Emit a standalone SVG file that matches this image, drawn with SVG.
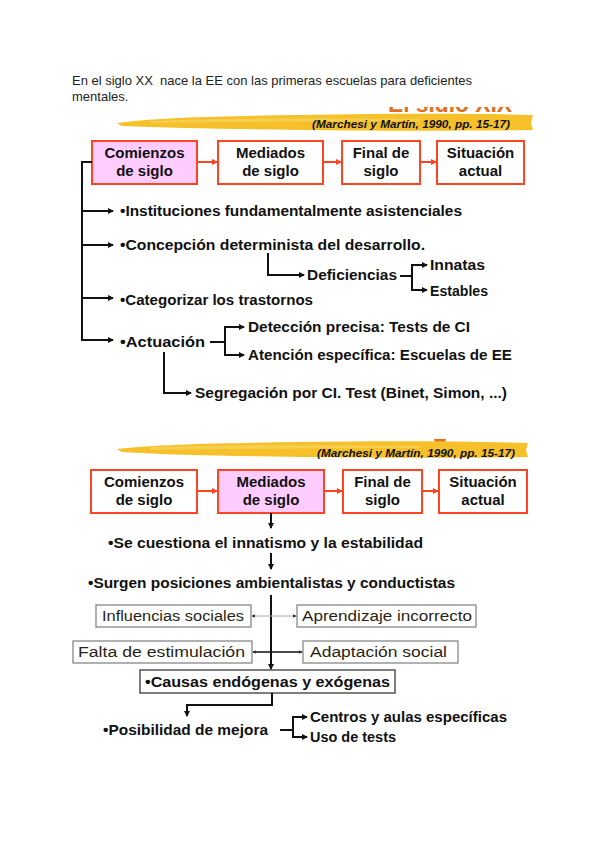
<svg xmlns="http://www.w3.org/2000/svg" width="600" height="848" viewBox="0 0 600 848">
<defs>
<style>
.intro{font-family:"Liberation Sans",Arial,sans-serif;font-size:13px;fill:#222}
.cite{font-family:"Liberation Sans",Arial,sans-serif;font-size:10.5px;font-weight:bold;font-style:italic;fill:#111}
.box{fill:#fff;stroke:#ff4422;stroke-width:2}
.box.hl{fill:#ffccff}
.bt{font-family:"Liberation Sans",Arial,sans-serif;font-size:15px;font-weight:bold;fill:#111;text-anchor:middle}
.b{font-family:"Liberation Sans",Arial,sans-serif;font-size:14px;font-weight:bold;fill:#111}
.g{fill:#fff;stroke:#888;stroke-width:1.3}
.gk{fill:#fff;stroke:#555;stroke-width:1.5}
.r{font-family:"Liberation Sans",Arial,sans-serif;font-size:14px;fill:#2a1f14}
.k{fill:none;stroke:#111;stroke-width:2}
.o{fill:none;stroke:#ff4422;stroke-width:2}
.thin{fill:none;stroke:#aaa;stroke-width:1}
.brush{fill:#f5c02a}
.brush2{fill:#f8d25a;opacity:0.8}
</style>
<marker id="ak" viewBox="0 0 6 6" refX="5" refY="3" markerWidth="6" markerHeight="6" markerUnits="userSpaceOnUse" orient="auto-start-reverse"><path d="M0,0 L6,3 L0,6 z" fill="#111"/></marker>
<marker id="ao" viewBox="0 0 6 6" refX="5" refY="3" markerWidth="6" markerHeight="6" markerUnits="userSpaceOnUse" orient="auto"><path d="M0,0 L6,3 L0,6 z" fill="#ff4422"/></marker>
<marker id="ag" viewBox="0 0 6 6" refX="5" refY="3" markerWidth="4" markerHeight="4" markerUnits="userSpaceOnUse" orient="auto-start-reverse"><path d="M0,0 L6,3 L0,6 z" fill="#333"/></marker>
<clipPath id="clipTitle"><rect x="380" y="107" width="140" height="5"/></clipPath>
</defs>

<g id="intro">
<text class="intro" x="72" y="85" xml:space="preserve" textLength="400" lengthAdjust="spacingAndGlyphs">En el siglo XX  nace la EE con las primeras escuelas para deficientes</text>
<text class="intro" x="72" y="101">mentales.</text>
</g>

<g id="header1">
<text x="388" y="112" clip-path="url(#clipTitle)" font-family="Liberation Sans, Arial, sans-serif" font-size="24" font-weight="bold" fill="#e0701e" textLength="124" lengthAdjust="spacingAndGlyphs">El siglo XIX</text>
<path class="brush" d="M117,123 C160,117 230,116 300,115 C380,114 460,113 533,115 L531,123 L533,130 C460,131 380,131 300,130 C230,129 170,128 122,126 Z"/>
<path class="brush2" d="M150,121 C230,118 330,118 420,119 L420,121 C330,121 230,122 150,123 Z"/>
<text class="cite" x="312" y="128" textLength="198" lengthAdjust="spacingAndGlyphs">(Marchesi y Martín, 1990, pp. 15-17)</text>
</g>

<g id="r1-comienzos"><rect class="box hl" x="92" y="141" width="105" height="43"/><text class="bt" x="144.5" y="158">Comienzos</text><text class="bt" x="144.5" y="176">de siglo</text></g>
<g id="r1-mediados"><rect class="box" x="218" y="141" width="105" height="43"/><text class="bt" x="270.5" y="158">Mediados</text><text class="bt" x="270.5" y="176">de siglo</text></g>
<g id="r1-final"><rect class="box" x="342" y="141" width="78" height="43"/><text class="bt" x="381" y="158">Final de</text><text class="bt" x="381" y="176">siglo</text></g>
<g id="r1-actual"><rect class="box" x="437" y="141" width="87" height="43"/><text class="bt" x="480.5" y="158">Situación</text><text class="bt" x="480.5" y="176">actual</text></g>

<g id="s1-items">
<text class="b" x="120" y="216" textLength="342" lengthAdjust="spacingAndGlyphs">•Instituciones fundamentalmente asistenciales</text>
<text class="b" x="120" y="250" textLength="305" lengthAdjust="spacingAndGlyphs">•Concepción determinista del desarrollo.</text>
<text class="b" x="307" y="280" textLength="90" lengthAdjust="spacingAndGlyphs">Deficiencias</text>
<text class="b" x="430" y="270" textLength="55" lengthAdjust="spacingAndGlyphs">Innatas</text>
<text class="b" x="430" y="296" textLength="58" lengthAdjust="spacingAndGlyphs">Estables</text>
<text class="b" x="120" y="305" textLength="193" lengthAdjust="spacingAndGlyphs">•Categorizar los trastornos</text>
<text class="b" x="120" y="347" textLength="85" lengthAdjust="spacingAndGlyphs">•Actuación</text>
<text class="b" x="248" y="332" textLength="222" lengthAdjust="spacingAndGlyphs">Detección precisa: Tests de CI</text>
<text class="b" x="248" y="360" textLength="264" lengthAdjust="spacingAndGlyphs">Atención específica: Escuelas de EE</text>
<text class="b" x="195" y="398" textLength="312" lengthAdjust="spacingAndGlyphs">Segregación por CI. Test (Binet, Simon, ...)</text>
</g>

<g id="header2">
<path d="M434,439 A6,5 0 0 0 446,439 Z" fill="#e0701e"/>
<path class="brush" d="M117,449 C160,444 230,443 300,442 C380,441 460,441 528,443 L526,450 L528,457 C460,458 380,458 300,457 C230,456 170,455 122,452 Z"/>
<path class="brush2" d="M150,447 C230,445 330,445 420,446 L420,448 C330,448 230,449 150,450 Z"/>
<text class="cite" x="317" y="457" textLength="198" lengthAdjust="spacingAndGlyphs">(Marchesi y Martín, 1990, pp. 15-17)</text>
</g>

<g id="r2-comienzos"><rect class="box" x="91" y="470" width="106" height="43"/><text class="bt" x="144" y="487">Comienzos</text><text class="bt" x="144" y="505">de siglo</text></g>
<g id="r2-mediados"><rect class="box hl" x="218" y="470" width="106" height="43"/><text class="bt" x="271" y="487">Mediados</text><text class="bt" x="271" y="505">de siglo</text></g>
<g id="r2-final"><rect class="box" x="343" y="470" width="79" height="43"/><text class="bt" x="382.5" y="487">Final de</text><text class="bt" x="382.5" y="505">siglo</text></g>
<g id="r2-actual"><rect class="box" x="439" y="470" width="88" height="43"/><text class="bt" x="483" y="487">Situación</text><text class="bt" x="483" y="505">actual</text></g>

<g id="s2-items">
<text class="b" x="108" y="548" textLength="315" lengthAdjust="spacingAndGlyphs">•Se cuestiona el innatismo y la estabilidad</text>
<text class="b" x="88" y="588" textLength="367" lengthAdjust="spacingAndGlyphs">•Surgen posiciones ambientalistas y conductistas</text>
</g>
<g id="n-influencias"><rect class="g" x="96" y="605" width="155" height="22"/><text class="r" x="102" y="621" textLength="142" lengthAdjust="spacingAndGlyphs">Influencias sociales</text></g>
<g id="n-aprendizaje"><rect class="g" x="297" y="605" width="179" height="22"/><text class="r" x="302" y="621" textLength="170" lengthAdjust="spacingAndGlyphs">Aprendizaje incorrecto</text></g>
<g id="n-falta"><rect class="g" x="73" y="641" width="179" height="22"/><text class="r" x="78" y="657" textLength="167" lengthAdjust="spacingAndGlyphs">Falta de estimulación</text></g>
<g id="n-adaptacion"><rect class="g" x="303" y="641" width="155" height="22"/><text class="r" x="310" y="657" textLength="137" lengthAdjust="spacingAndGlyphs">Adaptación social</text></g>
<g id="n-causas"><rect class="gk" x="140" y="670" width="255" height="23"/><text class="b" x="145" y="687" textLength="245" lengthAdjust="spacingAndGlyphs">•Causas endógenas y exógenas</text></g>
<g id="n-posibilidad">
<text class="b" x="103" y="735" textLength="165" lengthAdjust="spacingAndGlyphs">•Posibilidad de mejora</text>
<text class="b" x="310" y="722" textLength="197" lengthAdjust="spacingAndGlyphs">Centros y aulas específicas</text>
<text class="b" x="310" y="742" textLength="86" lengthAdjust="spacingAndGlyphs">Uso de tests</text>
</g>

<g id="connectors">
<path class="o" d="M197,162 H217" marker-end="url(#ao)"/>
<path class="o" d="M323,162 H341" marker-end="url(#ao)"/>
<path class="o" d="M420,162 H436" marker-end="url(#ao)"/>
<path class="k" d="M92,162 H82 V340"/>
<path class="k" d="M82,211 H113" marker-end="url(#ak)"/>
<path class="k" d="M82,245 H113" marker-end="url(#ak)"/>
<path class="k" d="M82,298 H113" marker-end="url(#ak)"/>
<path class="k" d="M81,340 H113" marker-end="url(#ak)"/>
<path class="k" d="M268,253 V275 H304" marker-end="url(#ak)"/>
<path class="k" d="M400,276 H412"/>
<path class="k" d="M427,265 H412 V290 H427" marker-start="url(#ak)" marker-end="url(#ak)"/>
<path class="k" d="M210,342 H225"/>
<path class="k" d="M244,327 H225 V355 H244" marker-start="url(#ak)" marker-end="url(#ak)"/>
<path class="k" d="M164,352 V393 H191" marker-end="url(#ak)"/>

<path class="o" d="M197,491 H217" marker-end="url(#ao)"/>
<path class="o" d="M324,491 H342" marker-end="url(#ao)"/>
<path class="o" d="M422,491 H438" marker-end="url(#ao)"/>
<path class="k" d="M271,513 V528" marker-end="url(#ak)"/>
<path class="k" d="M271,553 V569" marker-end="url(#ak)"/>
<path class="k" d="M271,595 V669" marker-end="url(#ak)"/>
<path class="thin" d="M252,616 H296" marker-start="url(#ag)" marker-end="url(#ag)"/>
<path class="k" style="stroke-width:1.5" d="M253,652 H302" marker-start="url(#ag)" marker-end="url(#ag)"/>
<path class="k" d="M272,693 V705 H187 V716" marker-end="url(#ak)"/>
<path class="k" d="M280,730 H293"/>
<path class="k" d="M307,717 H293 V737 H307" marker-start="url(#ak)" marker-end="url(#ak)"/>
</g>
</svg>
